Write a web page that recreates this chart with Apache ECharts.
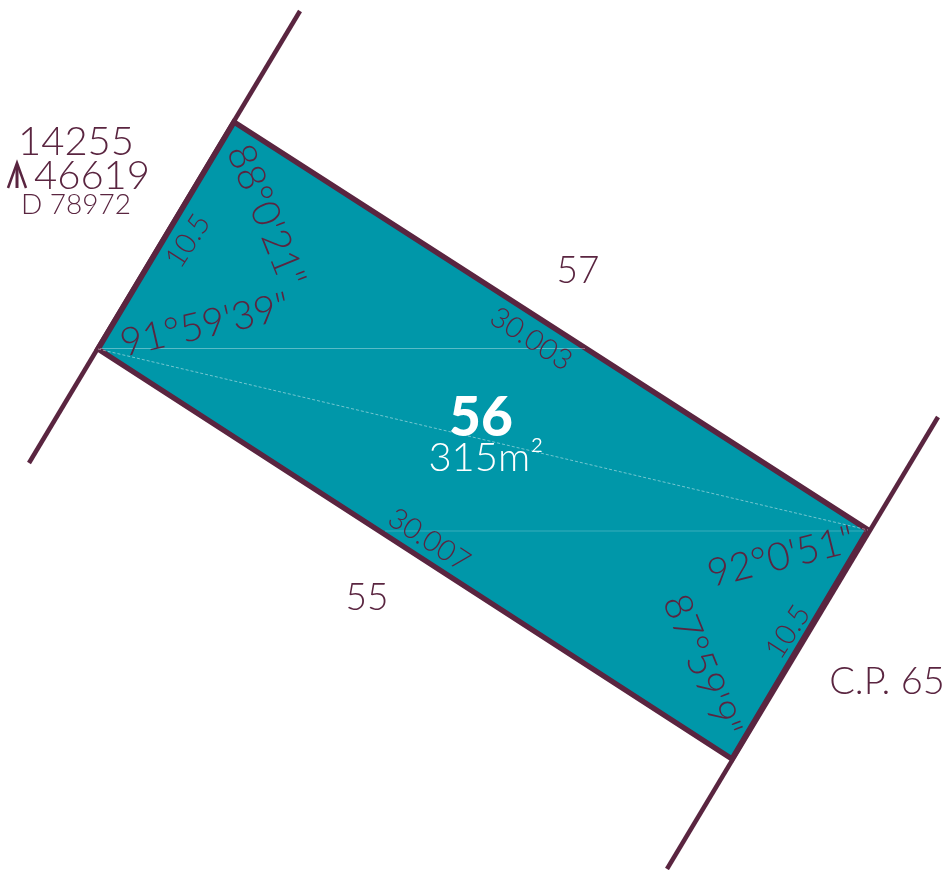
<!DOCTYPE html>
<html><head><meta charset="utf-8">
<style>html,body{margin:0;padding:0;background:#fff}#c{width:949px;height:870px}</style>
<script src="https://cdn.jsdelivr.net/npm/echarts@6/dist/echarts.min.js"></script>
</head><body><div id="c"></div>
<script>
const lotCorners = [[234,122],[868,530],[732,759],[98,349]];
const leftBoundary = [[29,463],[300,11]];
const rightBoundary = [[938,417],[667,869]];
const northArrowLegs = [[8,188],[17,163],[26,188]];
const northArrowStem = [[17,165],[17,188]];
const hairTop = [[100,348.5],[585,348.5]];
const hairBottom = [[385,531],[866,531]];
const hairDiagonal = [[98,349],[868,530]];
const MAROON = '#5a2540', TEAL = '#0097a9';
// [x, y, text, font size, rotation, colour, weight]
const labels = [
  [76,142,'14255',40,0,MAROON,300],
  [92,176,'46619',40,0,MAROON,300],
  [76,205,'D 78972',28,0,MAROON,300],
  [578,271,'57',37,0,MAROON,300],
  [367,598,'55',37,0,MAROON,300],
  [887,682,'C.P. 65',38,0,MAROON,300],
  [481,418,'56',55,0,'#ffffff',900],
  [486,458,'315m²',40,0,'#ffffff',300],
  [531,339,'30.003',29,-33,MAROON,300],
  [429,540,'30.007',29,-33,MAROON,300],
  [188,241,'10.5',29,57,MAROON,300],
  [788,632,'10.5',29,57,MAROON,300],
  [266,216,'88°0\'21"',39,-68,MAROON,300],
  [205,325,'91°59\'39"',39,13,MAROON,300],
  [781,557,'92°0\'51"',39,14,MAROON,300],
  [702,666,'87°59\'9"',39,-68,MAROON,300]
];
const line = (data, color, width, type) => ({
  type:'line', data, symbol:'none', silent:true, z:3, animation:false,
  lineStyle:{color, width, type:type||'solid', cap:'butt', join:'miter'}
});
const chart = echarts.init(document.getElementById('c'),null,{renderer:'canvas'});
chart.setOption({
  animation:false,
  backgroundColor:'#fff',
  grid:{left:0,right:0,top:0,bottom:0},
  xAxis:{type:'value',min:0,max:949,show:false},
  yAxis:{type:'value',min:0,max:870,inverse:true,show:false},
  tooltip:{show:false},
  series:[
    {type:'custom',silent:true,z:1,data:[0],renderItem:(p,api)=>({
      type:'polygon',
      shape:{points:lotCorners.map(c=>api.coord(c))},
      style:{fill:TEAL,stroke:MAROON,lineWidth:5.5,lineJoin:'miter'}
    })},
    line(leftBoundary,MAROON,4.5),
    line(rightBoundary,MAROON,4.5),
    line(hairTop,'rgba(255,255,255,0.35)',1),
    line(hairBottom,'rgba(255,255,255,0.22)',1),
    line(hairDiagonal,'rgba(255,255,255,0.45)',1,[3,2]),
    line(northArrowLegs,MAROON,2.5),
    line(northArrowStem,MAROON,3),
    {type:'scatter',symbolSize:0,z:5,silent:true,animation:false,itemStyle:{opacity:1},
     data:labels.map(l=>({value:[l[0],l[1]],
       label:{show:true,position:'inside',formatter:()=>l[2],align:'center',verticalAlign:'middle',opacity:1,
         fontFamily:'Lato',fontSize:l[3],rotate:l[4],color:l[5],fontWeight:l[6]}}))}
  ]
});
</script></body></html>
